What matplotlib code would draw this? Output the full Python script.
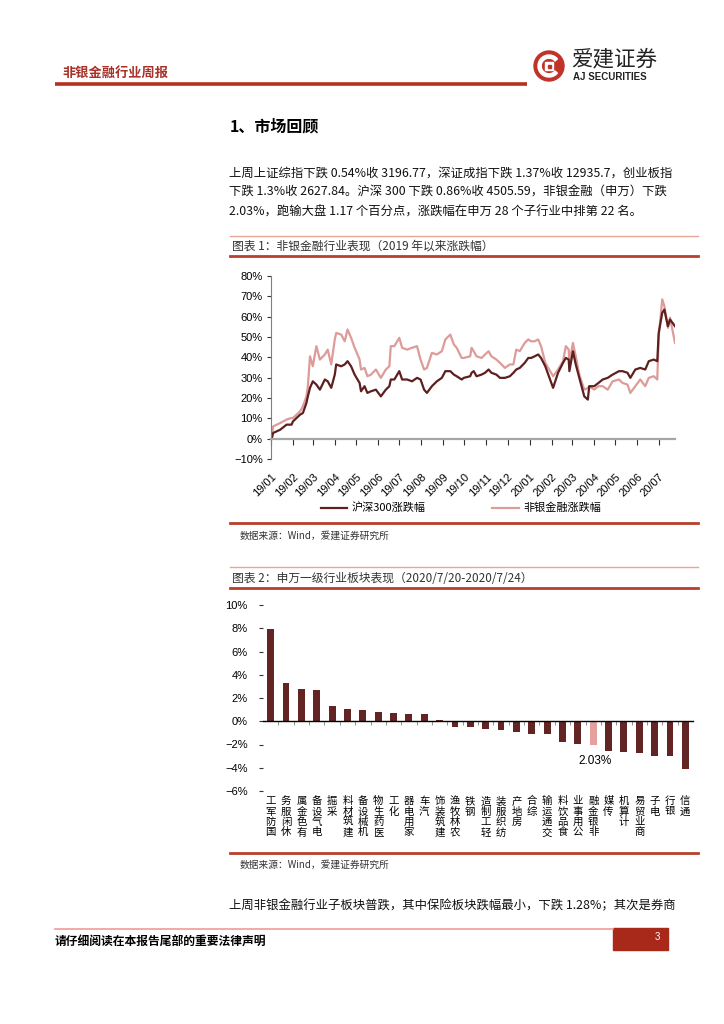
import matplotlib
matplotlib.use("Agg")
import matplotlib.pyplot as plt
import matplotlib.dates as mdates
from matplotlib.patches import Rectangle, Circle, Wedge
import pandas as pd

W, H = 724, 1024
CJK = ["Noto Sans CJK SC", "DejaVu Sans"]
NUM = ["Liberation Sans", "DejaVu Sans"]

DARK = "#5e1f1f"
PINK = "#dd9b99"
RED = "#b8402c"
BAR = "#632524"
BAR_HI = "#e3a09e"

# chart 1: cumulative change since 2019 (%)
dates = [
    "2019-01-02", "2019-01-04", "2019-01-14", "2019-01-23", "2019-01-30", "2019-02-01",
    "2019-02-11", "2019-02-15", "2019-02-20", "2019-02-22", "2019-02-25", "2019-03-01",
    "2019-03-06", "2019-03-11", "2019-03-18", "2019-03-22", "2019-03-27", "2019-04-01",
    "2019-04-03", "2019-04-10", "2019-04-15", "2019-04-19", "2019-04-24", "2019-04-29",
    "2019-05-06", "2019-05-08", "2019-05-13", "2019-05-17", "2019-05-22", "2019-05-29",
    "2019-06-05", "2019-06-12", "2019-06-17", "2019-06-19", "2019-06-24", "2019-07-01",
    "2019-07-05", "2019-07-12", "2019-07-19", "2019-07-26", "2019-07-31", "2019-08-05",
    "2019-08-09", "2019-08-16", "2019-08-23", "2019-08-30", "2019-09-04", "2019-09-11",
    "2019-09-16", "2019-09-20", "2019-09-27", "2019-09-30", "2019-10-09", "2019-10-11",
    "2019-10-14", "2019-10-18", "2019-10-25", "2019-10-30", "2019-11-04", "2019-11-08",
    "2019-11-15", "2019-11-20", "2019-11-27", "2019-12-04", "2019-12-09", "2019-12-13",
    "2019-12-18", "2019-12-25", "2019-12-30", "2020-01-03", "2020-01-08", "2020-01-13",
    "2020-01-17", "2020-01-23", "2020-02-03", "2020-02-10", "2020-02-17", "2020-02-21",
    "2020-02-25", "2020-02-26", "2020-03-02", "2020-03-06", "2020-03-11", "2020-03-18",
    "2020-03-23", "2020-03-25", "2020-04-01", "2020-04-07", "2020-04-13", "2020-04-20",
    "2020-04-27", "2020-05-06", "2020-05-11", "2020-05-18", "2020-05-22", "2020-05-29",
    "2020-06-05", "2020-06-12", "2020-06-17", "2020-06-24", "2020-06-29", "2020-07-01",
    "2020-07-06", "2020-07-09", "2020-07-14", "2020-07-17", "2020-07-24",
]
hs300 = [
    0.0, 2.8, 4.4, 6.9, 6.9, 8.5,
    11.8, 12.6, 17.6, 20.8, 25.0, 28.2,
    26.6, 24.1, 29.1, 28.2, 25.0, 31.5,
    36.5, 35.6, 36.5, 38.1, 35.6, 31.5,
    27.4, 23.3, 25.8, 22.5, 23.3, 24.1,
    20.8, 24.1, 25.8, 29.1, 29.1, 33.2,
    29.1, 29.1, 28.2, 29.9, 29.1, 24.1,
    22.5, 25.8, 28.2, 29.9, 33.2, 33.2,
    31.5, 30.7, 29.1, 29.9, 30.7, 32.4,
    33.2, 30.7, 31.5, 32.4, 34.0, 32.4,
    31.5, 29.9, 29.9, 30.7, 32.4, 34.0,
    34.8, 37.3, 39.7, 39.7, 40.5, 41.4,
    39.7, 35.6, 25.0, 32.4, 37.3, 39.7,
    38.9, 33.2, 43.0, 36.5, 29.9, 20.8,
    19.2, 25.8, 25.8, 27.4, 29.1, 29.9,
    31.5, 33.2, 33.2, 32.4, 29.9, 34.0,
    34.8, 34.0, 38.1, 38.9, 38.1, 52.0,
    61.9, 63.5, 55.3, 58.6, 55.3,
]
nonbank = [
    0.0, 6.0, 7.7, 9.4, 10.2, 10.2,
    13.4, 15.9, 20.8, 25.8, 40.5, 35.6,
    45.5, 38.9, 41.4, 43.8, 36.5, 48.8,
    52.0, 51.2, 47.9, 53.7, 49.6, 44.7,
    38.9, 34.0, 34.8, 30.7, 31.5, 34.0,
    29.9, 34.0, 35.6, 45.5, 45.5, 49.6,
    44.7, 43.8, 44.7, 45.5, 38.9, 34.0,
    34.8, 42.2, 41.4, 43.0, 48.8, 51.2,
    46.3, 44.7, 39.7, 39.7, 40.5, 44.7,
    43.0, 40.5, 39.7, 41.4, 43.0, 40.5,
    38.9, 37.3, 34.8, 36.5, 36.5, 43.8,
    43.0, 47.1, 48.8, 47.9, 47.9, 48.8,
    45.5, 37.3, 30.7, 34.0, 38.1, 45.5,
    43.8, 37.3, 47.1, 40.5, 31.5, 24.1,
    24.9, 25.8, 24.1, 25.8, 25.8, 24.1,
    28.2, 29.1, 27.4, 26.6, 22.5, 25.8,
    29.1, 25.8, 29.9, 30.7, 29.1, 50.4,
    68.5, 65.2, 54.5, 59.5, 47.1,
]
line_labels = ["沪深300涨跌幅", "非银金融涨跌幅"]

# chart 2: SW level-1 industries, weekly change (%)
industries = [
    "国防军工", "休闲服务", "有色金属", "电气设备", "采掘", "建筑材料", "机械设备",
    "医药生物", "化工", "家用电器", "汽车", "建筑装饰", "农林牧渔", "钢铁",
    "轻工制造", "纺织服装", "房地产", "综合", "交通运输", "食品饮料", "公用事业",
    "非银金融", "传媒", "计算机", "商业贸易", "电子", "银行", "通信",
]
weekly_chg = [
    7.93, 3.33, 2.78, 2.72, 1.30, 1.04, 0.96,
    0.78, 0.70, 0.63, 0.63, 0.15, -0.50, -0.50,
    -0.70, -0.78, -0.96, -1.07, -1.13, -1.77, -1.94,
    -2.03, -2.52, -2.64, -2.75, -3.02, -3.00, -4.12,
]
highlight = "非银金融"

para1 = [
    "上周上证综指下跌 0.54%收 3196.77，深证成指下跌 1.37%收 12935.7，创业板指",
    "下跌 1.3%收 2627.84。沪深 300 下跌 0.86%收 4505.59，非银金融（申万）下跌",
    "2.03%，跑输大盘 1.17 个百分点，涨跌幅在申万 28 个子行业中排第 22 名。",
]
para2 = "上周非银金融行业子板块普跌，其中保险板块跌幅最小，下跌 1.28%；其次是券商"
title1 = "图表 1：非银金融行业表现（2019 年以来涨跌幅）"
title2 = "图表 2：申万一级行业板块表现（2020/7/20-2020/7/24）"
source = "数据来源：Wind，爱建证券研究所"


def pct(v, _):
    s = f"{v:.0f}%"
    return s.replace("-", "\u2212")


fig = plt.figure(figsize=(W / 100, H / 100), dpi=100)
fig.patch.set_facecolor("white")

# page layer in pixel coordinates
pg = fig.add_axes([0, 0, 1, 1], zorder=-1)
pg.set_xlim(0, W)
pg.set_ylim(H, 0)
pg.axis("off")

# header
pg.text(62, 73, "非银金融行业周报", family=CJK, fontsize=9.5, weight="bold",
        color="#a8322a", va="center")
pg.plot([55, 527], [84, 84], color="#b5301e", lw=2.6, solid_capstyle="butt")
pg.add_patch(Circle((549, 66), 15, color="#c0332a"))
pg.add_patch(Wedge((549, 66), 11, 40, 320, width=3.2, color="white"))
pg.add_patch(Rectangle((545, 62), 8, 8, color="white"))
pg.add_patch(Rectangle((547.5, 64.5), 3, 3, color="#c0332a"))
pg.text(571, 59, "爱建证券", family=CJK, fontsize=15.5, color="#222222", va="center")
pg.text(573, 77, "AJ SECURITIES", family=NUM, fontsize=7, weight="bold",
        color="#222222", va="center")

# section heading + text
pg.text(230, 126, "1、市场回顾", family=CJK, fontsize=11.5, weight="bold", va="center")
for i, line in enumerate(para1):
    pg.text(229, 173 + i * 19.5, line, family=CJK, fontsize=8.9, va="center", color="#111111")
pg.text(229, 906, para2, family=CJK, fontsize=8.9, va="center", color="#111111")


def chart_frame(y_top, y_title, y_bottom, y_src, title):
    pg.plot([230, 698], [y_top, y_top], color="#e8a595", lw=1.0)
    pg.text(232, y_title, title, family=CJK, fontsize=8.5, va="center", color="#333333")
    pg.plot([230, 698], [y_title + 10, y_title + 10], color=RED, lw=2.0)
    pg.plot([230, 698], [y_bottom, y_bottom], color=RED, lw=2.0)
    pg.text(240, y_src, source, family=CJK, fontsize=7, va="center", color="#333333")


chart_frame(236, 246, 523, 536, title1)
chart_frame(567, 578, 853, 865, title2)

# footer
pg.plot([55, 613], [929, 929], color="#f29a9a", lw=1.2)
pg.add_patch(Rectangle((613, 928), 55, 22, color="#a8281a"))
pg.text(657, 937, "3", family=NUM, fontsize=7, color="white", va="center", ha="center")
pg.text(55, 942, "请仔细阅读在本报告尾部的重要法律声明", family=CJK, fontsize=8.5,
        weight="bold", va="center")

# chart 1: line chart
ax1 = fig.add_axes([271 / W, 1 - 459 / H, 404 / W, 183 / H])
ax1.set_facecolor("none")
x = pd.to_datetime(dates)
l2, = ax1.plot(x, nonbank, color=PINK, lw=1.6, label=line_labels[1])
l1, = ax1.plot(x, hs300, color=DARK, lw=1.6, label=line_labels[0])
ax1.set_ylim(-10, 80)
ax1.set_yticks(range(-10, 81, 10))
ax1.yaxis.set_major_formatter(plt.FuncFormatter(pct))
ax1.set_xlim(pd.Timestamp("2019-01-01"), pd.Timestamp("2020-07-24"))
ax1.xaxis.set_major_locator(mdates.MonthLocator())
ax1.xaxis.set_major_formatter(mdates.DateFormatter("%y/%m"))
for s in ["top", "right"]:
    ax1.spines[s].set_visible(False)
ax1.spines["bottom"].set_position(("data", 0))
ax1.spines["bottom"].set_color("#a6a6a6")
ax1.spines["bottom"].set_linewidth(1.6)
ax1.spines["left"].set_color("#7f7f7f")
ax1.tick_params(axis="x", length=4, color="#333333", pad=20, labelsize=8)
ax1.tick_params(axis="y", length=3, color="#333333", pad=3, labelsize=8)
for t in ax1.get_xticklabels():
    t.set_rotation(45)
    t.set_ha("right")
    t.set_rotation_mode("anchor")
    t.set_family(NUM)
for t in ax1.get_yticklabels():
    t.set_family(NUM)
ax1.legend(handles=[l1, l2], loc="center", bbox_to_anchor=(461 / W, 1 - 508 / H),
           bbox_transform=fig.transFigure, ncol=2, frameon=False, columnspacing=6,
           handlelength=2.4, handletextpad=0.4, prop={"family": CJK, "size": 8})

# chart 2: bar chart
ax2 = fig.add_axes([263 / W, 1 - 791 / H, 430 / W, 186 / H])
ax2.set_facecolor("none")
pos = list(range(len(industries)))
colors = [BAR_HI if name == highlight else BAR for name in industries]
ax2.bar(pos, weekly_chg, width=0.45, color=colors, zorder=2)
hi = industries.index(highlight)
ax2.annotate(f"{abs(weekly_chg[hi]):.2f}%", xy=(hi, weekly_chg[hi]), xytext=(1, -7),
             textcoords="offset points", ha="center", va="top", family=NUM, fontsize=8.5)
ax2.set_xlim(-0.5, len(industries) - 0.5)
ax2.set_ylim(-6, 10)
ax2.set_yticks(range(-6, 11, 2))
ax2.yaxis.set_major_formatter(plt.FuncFormatter(pct))
for s in ["top", "right", "left"]:
    ax2.spines[s].set_visible(False)
ax2.spines["bottom"].set_position(("data", 0))
ax2.spines["bottom"].set_linewidth(1.0)
ax2.spines["bottom"].set_zorder(3)
ax2.set_xticks(pos)
ax2.set_xticklabels(["\n".join(reversed(name)) for name in industries],
                    family=CJK, fontsize=7.5, linespacing=1.05, va="top")
ax2.set_xticks([p + 0.5 for p in pos[:-1]], minor=True)
ax2.tick_params(axis="x", which="major", length=0, pad=54)
ax2.tick_params(axis="x", which="minor", length=3, color="#808080")
ax2.tick_params(axis="y", length=3, color="#333333", pad=8, labelsize=8)
for t in ax2.get_yticklabels():
    t.set_family(NUM)

fig.savefig("out.png", dpi=100)
